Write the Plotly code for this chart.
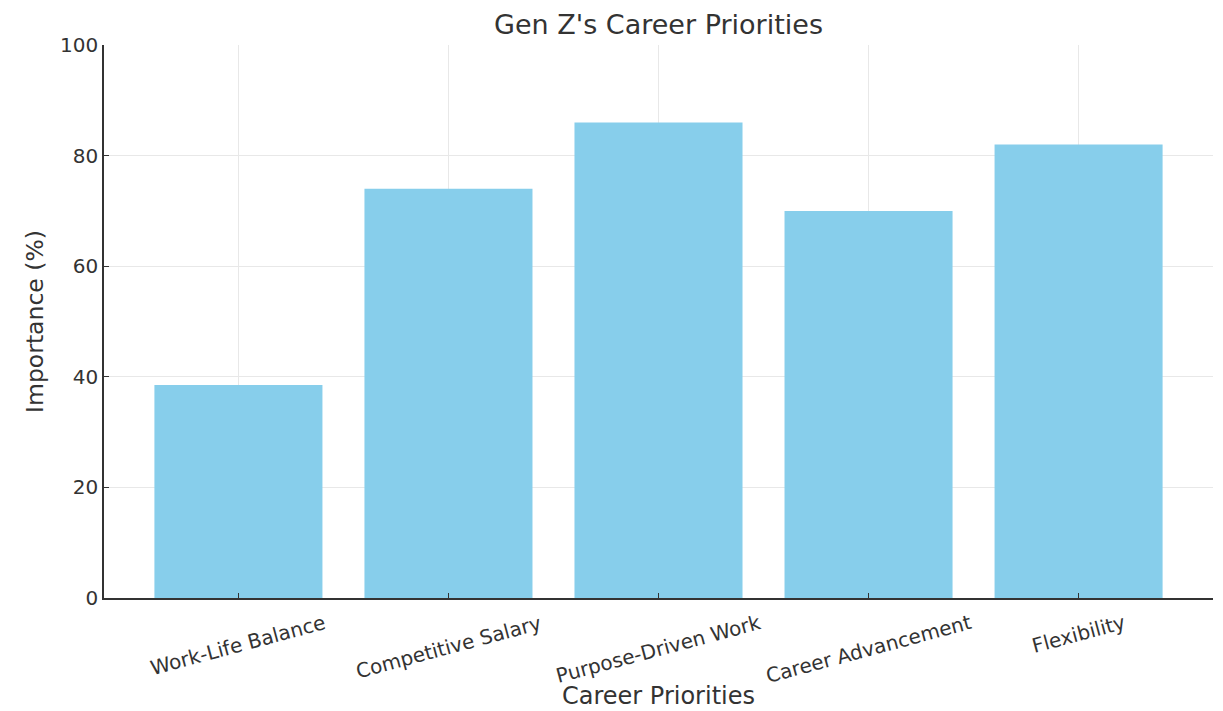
import plotly.graph_objects as go

categories = ["Work-Life Balance", "Competitive Salary", "Purpose-Driven Work",
              "Career Advancement", "Flexibility"]
importance = [38.5, 74, 86, 70, 82]
y_ticks = [0, 20, 40, 60, 80, 100]

title_text = "Gen Z's Career Priorities"
x_title = "Career Priorities"
y_title = "Importance (%)"

FONT = "DejaVu Sans"
TXT = "#333333"

# page body has an 8px default margin; figure size compensates for it
W, H = 1215, 703

fig = go.Figure()
fig.add_trace(go.Bar(
    x=categories, y=importance, width=0.8,
    marker=dict(color="#87CEEB", line=dict(width=0)),
))

# rotated, centred tick labels
for c in categories:
    fig.add_annotation(
        x=c, xref="x", y=-0.018, yref="paper",
        text=c, textangle=-15, showarrow=False,
        xanchor="center", yanchor="top",
        font=dict(family=FONT, size=20, color=TXT),
    )

fig.update_layout(
    width=W, height=H,
    margin=dict(l=96, r=10, t=37, b=113, autoexpand=False),
    paper_bgcolor="white", plot_bgcolor="white",
    font=dict(family=FONT, color=TXT),
    showlegend=False,
    bargap=0.2,
    title=dict(text=title_text, x=0.5, xref="paper", xanchor="center",
               y=1 - 17 / H, yref="container", yanchor="middle",
               font=dict(family=FONT, size=27, color=TXT)),
    xaxis=dict(
        type="category", range=[-0.64, 4.64],
        showticklabels=False,
        ticks="inside", ticklen=5, tickcolor="#333333",
        showline=True, linecolor="#333333", linewidth=1.5,
        showgrid=True, gridcolor="#e8e8e8", gridwidth=1,
        title=dict(text=x_title, standoff=88,
                   font=dict(family=FONT, size=24, color=TXT)),
    ),
    yaxis=dict(
        range=[0, 100], tickvals=y_ticks,
        ticks="inside", ticklen=5, tickcolor="#333333",
        showline=True, linecolor="#333333", linewidth=1.5,
        showgrid=True, gridcolor="#e8e8e8", gridwidth=1,
        zeroline=False,
        tickfont=dict(family=FONT, size=20, color=TXT),
        title=dict(text=y_title, standoff=10,
                   font=dict(family=FONT, size=23.5, color=TXT)),
    ),
)

fig.write_html("out.html")
